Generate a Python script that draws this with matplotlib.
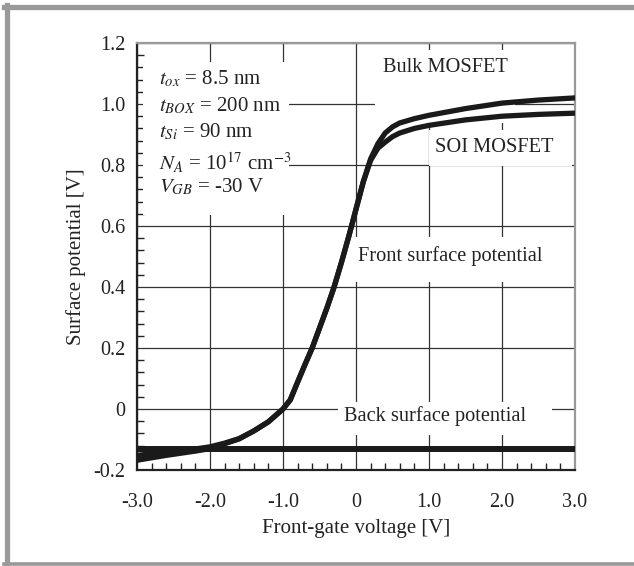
import matplotlib
matplotlib.use("Agg")
import matplotlib.pyplot as plt
from matplotlib.ticker import FixedLocator, MultipleLocator
from matplotlib.lines import Line2D

plt.rcParams["font.family"] = ["Liberation Serif", "DejaVu Serif"]
plt.rcParams["mathtext.fontset"] = "stix"
plt.rcParams["axes.unicode_minus"] = False

# Werte
front_x = [-3.0, -2.8, -2.6, -2.4, -2.2, -2.0, -1.8, -1.6, -1.4, -1.2, -1.0, -0.9,
           -0.8, -0.7, -0.6, -0.5, -0.4, -0.3, -0.2, -0.1, 0.0, 0.1, 0.2, 0.3,
           0.4, 0.5, 0.6, 0.8, 1.0, 1.5, 2.0, 2.5, 3.0]
bulk_y = [-0.152, -0.147, -0.142, -0.137, -0.131, -0.124, -0.112, -0.097, -0.072, -0.042, 0.0, 0.030,
          0.088, 0.145, 0.200, 0.265, 0.330, 0.400, 0.480, 0.565, 0.655, 0.745, 0.820, 0.870,
          0.905, 0.925, 0.938, 0.952, 0.963, 0.985, 1.003, 1.013, 1.020]
soi_y = [-0.168, -0.160, -0.152, -0.145, -0.138, -0.130, -0.114, -0.098, -0.072, -0.042, 0.0, 0.030,
         0.088, 0.145, 0.200, 0.265, 0.330, 0.400, 0.480, 0.565, 0.655, 0.745, 0.815, 0.855,
         0.875, 0.893, 0.905, 0.920, 0.930, 0.948, 0.960, 0.966, 0.970]
back_x = [-3.0, 3.0]
back_y = [-0.132, -0.132]

xticks = [-3.0, -2.0, -1.0, 0.0, 1.0, 2.0, 3.0]
xtick_labels = ["-3.0", "-2.0", "-1.0", "0", "1.0", "2.0", "3.0"]
yticks = [-0.2, 0.0, 0.2, 0.4, 0.6, 0.8, 1.0, 1.2]
ytick_labels = ["-0.2", "0", "0.2", "0.4", "0.6", "0.8", "1.0", "1.2"]

params = ["$t_{ox}$ = 8.5 nm", "$t_{BOX}$ = 200 nm", "$t_{Si}$ = 90 nm",
          "$N_A$ = 10$^{17}$ cm$^{-3}$", "$V_{GB}$ = -30 V"]

fig = plt.figure(figsize=(6.34, 5.66), dpi=100)
ax = fig.add_axes([0.216, 0.1696, 0.691, 0.7544])

ax.set_xlim(-3, 3)
ax.set_ylim(-0.2, 1.2)
ax.xaxis.set_major_locator(FixedLocator(xticks))
ax.yaxis.set_major_locator(FixedLocator(yticks))
ax.set_xticklabels(xtick_labels)
ax.set_yticklabels(ytick_labels)
ax.xaxis.set_minor_locator(MultipleLocator(0.2))
ax.yaxis.set_minor_locator(MultipleLocator(0.04))
ax.tick_params(which="both", direction="in", top=False, right=False, labelsize=14.5, colors="#222")
ax.tick_params(axis="y", which="major", length=0, pad=8.5)
ax.tick_params(axis="x", which="major", length=0, pad=16.5)
ax.tick_params(which="minor", length=5, width=1)
ax.grid(True, which="major", color="#333", lw=0.9)
ax.set_axisbelow(True)

for s in ["left", "bottom"]:
    ax.spines[s].set_color("#222")
    ax.spines[s].set_linewidth(1.6)
for s in ["top", "right"]:
    ax.spines[s].set_color("#999")
    ax.spines[s].set_linewidth(1.6)

ax.set_xlabel("Front-gate voltage [V]", fontsize=15, color="#222", labelpad=5)
ax.set_ylabel("Surface potential [V]", fontsize=15, color="#222", labelpad=5)

# Kurven
ax.plot(back_x, back_y, color="#1a1a1a", lw=4.3, solid_capstyle="butt", zorder=5)
ax.plot(front_x, bulk_y, color="#1a1a1a", lw=3.8, zorder=5)
ax.plot(front_x, soi_y, color="#1a1a1a", lw=3.8, zorder=5)


# weisse Flaechen hinter den Beschriftungen (verdecken das Gitter)
def white_box(x0, x1, y0, y1):
    ax.add_patch(plt.Rectangle((x0, y0), x1 - x0, y1 - y0, fc="white", ec="none", zorder=2))


white_box(-2.92, -0.92, 0.636, 1.138)
white_box(0.26, 2.18, 0.939, 1.177)
white_box(1.0, 2.96, 0.797, 0.915)
white_box(-0.15, 2.73, 0.416, 0.564)
white_box(-0.247, 2.685, -0.085, 0.023)

param_y = [1.082, 0.995, 0.91, 0.805, 0.727]
for txt, yy in zip(params, param_y):
    ax.text(-2.7, yy, txt, fontsize=15, va="center", ha="left", color="#222", zorder=6)

ax.text(1.22, 1.121, "Bulk MOSFET", fontsize=14.7, ha="center", va="center", color="#222", zorder=6)
ax.text(1.08, 0.859, "SOI MOSFET", fontsize=14.7, ha="left", va="center", color="#222", zorder=6)
ax.text(0.027, 0.502, "Front surface potential", fontsize=14.7, ha="left", va="center",
        color="#222", zorder=6)
ax.text(-0.164, -0.023, "Back surface potential", fontsize=14.7, ha="left", va="center",
        color="#222", zorder=6)

# grauer Rahmen um die Abbildung
fig.add_artist(Line2D([0.006, 1.0], [0.9885, 0.9885], color="#999", lw=3.8, transform=fig.transFigure))
fig.add_artist(Line2D([0.0103, 0.0103], [0.0, 0.992], color="#999", lw=3.8, transform=fig.transFigure))
fig.add_artist(Line2D([0.006, 1.0], [0.003, 0.003], color="#999", lw=2.6, transform=fig.transFigure))

fig.savefig("out.png", dpi=100)
